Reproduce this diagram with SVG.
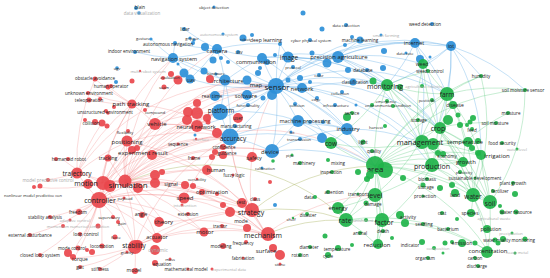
<svg xmlns="http://www.w3.org/2000/svg" width="550" height="278" viewBox="0 0 550 278">
<style>
#connectors path{fill:none;stroke-width:.7}
.er{stroke:#f07a7a;stroke-opacity:.4}
.eb{stroke:#5aaae6;stroke-opacity:.5}
.eg{stroke:#5fcc80;stroke-opacity:.5}
.ey{stroke:#a3ad55;stroke-opacity:.55}
.r circle{fill:#e9474c;fill-opacity:.92}
.b circle{fill:#2d8fd8;fill-opacity:.92}
.g circle{fill:#1fb34a;fill-opacity:.92}
text{font-family:"Open Sans","Liberation Sans",sans-serif;fill:#222;text-anchor:middle;dominant-baseline:central}
text.f{fill:#a8a8a8}
.s4{font-size:4px}.s45{font-size:4.5px}.s5{font-size:5px}.s55{font-size:5.5px}.s6{font-size:6px}.s65{font-size:6.5px}.s7{font-size:7px}.s75{font-size:7.5px}.s8{font-size:8px}
</style>
<rect width="550" height="278" fill="#fff"/>
<g id="connectors">
<path class="er" d="M125 183A200 200 0 0 1 230 137"/><path class="er" d="M125 183A200 200 0 0 1 220 112"/><path class="er" d="M125 183A200 200 0 0 1 252 211"/><path class="er" d="M125 183A200 200 0 0 1 266 234"/><path class="er" d="M125 183A200 200 0 0 1 276 86"/><path class="er" d="M125 183A200 200 0 0 1 272 151"/><path class="er" d="M125 183A200 200 0 0 1 196 127"/><path class="er" d="M125 183A200 200 0 0 1 184 198"/><path class="er" d="M125 183A200 200 0 0 1 164 222"/><path class="er" d="M125 183A200 200 0 0 1 132 104"/><path class="er" d="M125 183A200 200 0 0 1 127 142"/><path class="er" d="M125 183A200 200 0 0 1 155 124"/><path class="er" d="M125 183A200 200 0 0 1 135 246"/><path class="er" d="M125 183A200 200 0 0 1 157 238"/><path class="er" d="M125 183A200 200 0 0 1 204 232"/><path class="er" d="M125 183A200 200 0 0 1 207 170"/><path class="er" d="M125 183A200 200 0 0 1 252 157"/><path class="er" d="M125 183A200 200 0 0 1 375 166"/><path class="er" d="M125 183A200 200 0 0 1 108 158"/><path class="er" d="M125 183A200 200 0 0 1 77 173"/><path class="er" d="M125 183A200 200 0 0 1 145 153"/><path class="er" d="M125 183A200 200 0 0 1 217 49"/><path class="er" d="M125 183A200 200 0 0 1 173 58"/><path class="er" d="M125 183A200 200 0 0 1 225 81"/><path class="er" d="M125 183A200 200 0 0 1 155 183"/><path class="er" d="M125 183A200 200 0 0 1 212 192"/>
<path class="er" d="M99 200A200 200 0 0 1 230 137"/><path class="er" d="M99 200A200 200 0 0 1 220 112"/><path class="er" d="M99 200A200 200 0 0 1 252 211"/><path class="er" d="M99 200A200 200 0 0 1 266 234"/><path class="er" d="M99 200A200 200 0 0 1 135 246"/><path class="er" d="M99 200A200 200 0 0 1 132 104"/><path class="er" d="M99 200A200 200 0 0 1 155 124"/><path class="er" d="M99 200A200 200 0 0 1 127 142"/><path class="er" d="M99 200A200 200 0 0 1 77 173"/><path class="er" d="M99 200A200 200 0 0 1 184 198"/><path class="er" d="M99 200A200 200 0 0 1 204 232"/><path class="er" d="M99 200A200 200 0 0 1 157 238"/><path class="er" d="M99 200A200 200 0 0 1 164 222"/><path class="er" d="M99 200A200 200 0 0 1 276 86"/><path class="er" d="M99 200A200 200 0 0 1 79 212"/><path class="er" d="M99 200A200 200 0 0 1 74 258"/><path class="er" d="M99 200A200 200 0 0 1 85 234"/><path class="er" d="M99 200A200 200 0 0 1 75 248"/><path class="er" d="M99 200A200 200 0 0 1 40 255"/><path class="er" d="M99 200A200 200 0 0 1 30 235"/><path class="er" d="M99 200A200 200 0 0 1 50 217"/><path class="er" d="M99 200A200 200 0 0 1 102 246"/><path class="er" d="M99 200A200 200 0 0 1 272 151"/><path class="er" d="M99 200A200 200 0 0 1 207 170"/>
<path class="er" d="M102 183A200 200 0 0 1 132 104"/><path class="er" d="M102 183A200 200 0 0 1 230 137"/><path class="er" d="M102 183A200 200 0 0 1 252 211"/><path class="er" d="M102 183A200 200 0 0 1 266 234"/><path class="er" d="M102 183A200 200 0 0 1 135 246"/><path class="er" d="M102 183A200 200 0 0 1 155 124"/><path class="er" d="M102 183A200 200 0 0 1 62 159"/><path class="er" d="M102 183A200 200 0 0 1 108 158"/><path class="er" d="M102 183A200 200 0 0 1 220 112"/><path class="er" d="M102 183A200 200 0 0 1 34 187"/>
<path class="er" d="M77 173A200 200 0 0 1 132 104"/><path class="er" d="M77 173A200 200 0 0 1 95 79"/><path class="er" d="M77 173A200 200 0 0 1 102 123"/><path class="er" d="M77 173A200 200 0 0 1 127 142"/><path class="er" d="M77 173A200 200 0 0 1 276 86"/><path class="er" d="M77 173A200 200 0 0 1 48 180"/>
<path class="er" d="M132 104A200 200 0 0 1 95 79"/><path class="er" d="M132 104A200 200 0 0 1 109 87"/><path class="er" d="M132 104A200 200 0 0 1 88 93"/><path class="er" d="M132 104A200 200 0 0 1 89 100"/><path class="er" d="M132 104A200 200 0 0 1 155 124"/><path class="er" d="M132 104A200 200 0 0 1 173 58"/><path class="er" d="M132 104A200 200 0 0 1 230 137"/>
<path class="er" d="M155 124A200 200 0 0 1 230 137"/><path class="er" d="M155 124A200 200 0 0 1 220 112"/><path class="er" d="M155 124A200 200 0 0 1 276 86"/><path class="er" d="M155 124A200 200 0 0 1 196 127"/>
<path class="er" d="M127 142A200 200 0 0 1 230 137"/><path class="er" d="M127 142A200 200 0 0 1 276 86"/><path class="er" d="M127 142A200 200 0 0 1 266 234"/>
<path class="er" d="M252 211A200 200 0 0 1 230 137"/><path class="er" d="M252 211A200 200 0 0 1 276 86"/><path class="er" d="M252 211A200 200 0 0 1 266 234"/><path class="er" d="M266 234A200 200 0 0 1 375 195"/><path class="er" d="M266 234A200 200 0 0 1 230 137"/>
<path class="er" d="M135 246A200 200 0 0 1 266 234"/><path class="er" d="M135 246A200 200 0 0 1 252 211"/><path class="er" d="M135 246A200 200 0 0 1 157 238"/><path class="er" d="M135 246A200 200 0 0 1 74 258"/><path class="er" d="M135 246A200 200 0 0 1 80 267"/><path class="er" d="M135 246A200 200 0 0 1 100 269"/><path class="er" d="M135 246A200 200 0 0 1 135 271"/><path class="er" d="M135 246A200 200 0 0 1 230 137"/>
<path class="er" d="M145 153A200 200 0 0 1 230 137"/><path class="er" d="M145 153A200 200 0 0 1 220 112"/><path class="er" d="M145 153A200 200 0 0 1 252 211"/><path class="er" d="M196 127A200 200 0 0 1 230 137"/><path class="er" d="M196 127A200 200 0 0 1 220 112"/><path class="er" d="M196 127A200 200 0 0 1 276 86"/><path class="er" d="M207 170A200 200 0 0 1 230 137"/><path class="er" d="M184 198A200 200 0 0 1 252 211"/><path class="er" d="M164 222A200 200 0 0 1 266 234"/><path class="er" d="M204 232A200 200 0 0 1 266 234"/><path class="er" d="M157 238A200 200 0 0 1 204 232"/><path class="er" d="M184 198A200 200 0 0 1 230 137"/><path class="er" d="M157 238A200 200 0 0 1 252 211"/>
<path class="ey" d="M266 234A200 200 0 0 1 346 220"/><path class="ey" d="M252 211A200 200 0 0 1 346 220"/><path class="ey" d="M125 183A200 200 0 0 1 346 220"/><path class="ey" d="M252 211A200 200 0 0 1 375 166"/>
<path class="eb" d="M276 86A200 200 0 0 1 230 137"/><path class="eb" d="M276 86A200 200 0 0 1 220 112"/><path class="eb" d="M276 86A200 200 0 0 1 225 81"/><path class="eb" d="M276 86A200 200 0 0 1 217 49"/><path class="eb" d="M276 86A200 200 0 0 1 262 58"/><path class="eb" d="M276 86A200 200 0 0 1 289 57"/><path class="eb" d="M276 86A200 200 0 0 1 338 57"/><path class="eb" d="M276 86A200 200 0 0 1 302 89"/><path class="eb" d="M276 86A200 200 0 0 1 387 85"/><path class="eb" d="M276 86A200 200 0 0 1 375 166"/><path class="eb" d="M276 86A200 200 0 0 1 420 142"/><path class="eb" d="M276 86A200 200 0 0 1 438 128"/><path class="eb" d="M276 86A200 200 0 0 1 447 94"/><path class="eb" d="M276 86A200 200 0 0 1 451 46"/><path class="eb" d="M276 86A200 200 0 0 1 415 43"/><path class="eb" d="M276 86A200 200 0 0 1 272 151"/><path class="eb" d="M276 86A200 200 0 0 1 347 129"/><path class="eb" d="M276 86A200 200 0 0 1 298 121"/><path class="eb" d="M276 86A200 200 0 0 1 173 58"/><path class="eb" d="M276 86A200 200 0 0 1 190 79"/><path class="eb" d="M276 86A200 200 0 0 1 215 96"/><path class="eb" d="M276 86A200 200 0 0 1 247 95"/><path class="eb" d="M276 86A200 200 0 0 1 247 80"/><path class="eb" d="M276 86A200 200 0 0 1 330 143"/><path class="eb" d="M276 86A200 200 0 0 1 360 40"/><path class="eb" d="M276 86A200 200 0 0 1 280 44"/><path class="eb" d="M276 86A200 200 0 0 1 432 166"/><path class="eb" d="M276 86A200 200 0 0 1 196 127"/>
<path class="eb" d="M338 57A200 200 0 0 1 451 46"/><path class="eb" d="M338 57A200 200 0 0 1 415 43"/><path class="eb" d="M338 57A200 200 0 0 1 447 94"/><path class="eb" d="M338 57A200 200 0 0 1 387 85"/><path class="eb" d="M338 57A200 200 0 0 1 438 128"/><path class="eb" d="M338 57A200 200 0 0 1 423 64"/><path class="eb" d="M338 57A200 200 0 0 1 289 57"/><path class="eb" d="M338 57A200 200 0 0 1 360 40"/><path class="eb" d="M338 57A200 200 0 0 1 420 142"/>
<path class="eb" d="M289 57A200 200 0 0 1 217 49"/><path class="eb" d="M289 57A200 200 0 0 1 280 44"/><path class="eb" d="M289 57A200 200 0 0 1 438 128"/><path class="eb" d="M289 57A200 200 0 0 1 387 85"/><path class="eb" d="M289 57A200 200 0 0 1 353 82"/>
<path class="eb" d="M451 46A200 200 0 0 1 415 43"/><path class="eb" d="M451 46A200 200 0 0 1 447 94"/><path class="eb" d="M451 46A200 200 0 0 1 387 85"/><path class="eb" d="M451 46A200 200 0 0 1 481 76"/><path class="eb" d="M451 46A200 200 0 0 1 525 90"/><path class="eb" d="M451 46A200 200 0 0 1 423 64"/><path class="eb" d="M451 46A200 200 0 0 1 438 128"/><path class="eb" d="M451 46A200 200 0 0 1 481 155"/><path class="eb" d="M415 43A200 200 0 0 1 387 85"/><path class="eb" d="M415 43A200 200 0 0 1 447 94"/><path class="eb" d="M415 43A200 200 0 0 1 438 128"/><path class="eb" d="M415 43A200 200 0 0 1 420 142"/>
<path class="eb" d="M217 49A200 200 0 0 1 173 58"/><path class="eb" d="M217 49A200 200 0 0 1 225 81"/><path class="eb" d="M217 49A200 200 0 0 1 190 79"/><path class="eb" d="M217 49A200 200 0 0 1 184 29"/><path class="eb" d="M217 49A200 200 0 0 1 280 44"/><path class="eb" d="M217 49A200 200 0 0 1 175 43"/>
<path class="eb" d="M173 58A200 200 0 0 1 225 81"/><path class="eb" d="M173 58A200 200 0 0 1 190 79"/><path class="eb" d="M173 58A200 200 0 0 1 175 43"/><path class="eb" d="M173 58A200 200 0 0 1 135 52"/><path class="eb" d="M173 58A200 200 0 0 1 151 39"/>
<path class="eb" d="M225 81A200 200 0 0 1 230 137"/><path class="eb" d="M225 81A200 200 0 0 1 220 112"/><path class="eb" d="M225 81A200 200 0 0 1 262 58"/><path class="eb" d="M230 137A200 200 0 0 1 272 151"/><path class="eb" d="M230 137A200 200 0 0 1 220 112"/><path class="eb" d="M230 137A200 200 0 0 1 347 129"/><path class="eb" d="M230 137A200 200 0 0 1 375 166"/><path class="eb" d="M272 151A200 200 0 0 1 375 166"/><path class="eb" d="M272 151A200 200 0 0 1 298 121"/><path class="eb" d="M272 151A200 200 0 0 1 347 129"/><path class="eb" d="M262 58A200 200 0 0 1 302 89"/><path class="eb" d="M262 58A200 200 0 0 1 338 57"/><path class="eb" d="M302 89A200 200 0 0 1 387 85"/><path class="eb" d="M302 89A200 200 0 0 1 347 129"/><path class="eb" d="M298 121A200 200 0 0 1 347 129"/><path class="eb" d="M298 121A200 200 0 0 1 330 143"/><path class="eb" d="M347 129A200 200 0 0 1 375 166"/><path class="eb" d="M347 129A200 200 0 0 1 420 142"/><path class="eb" d="M220 112A200 200 0 0 1 375 166"/>
<path class="eg" d="M375 166A200 200 0 0 1 420 142"/><path class="eg" d="M375 166A200 200 0 0 1 438 128"/><path class="eg" d="M375 166A200 200 0 0 1 447 94"/><path class="eg" d="M375 166A200 200 0 0 1 387 85"/><path class="eg" d="M375 166A200 200 0 0 1 432 166"/><path class="eg" d="M375 166A200 200 0 0 1 473 196"/><path class="eg" d="M375 166A200 200 0 0 1 490 203"/><path class="eg" d="M375 166A200 200 0 0 1 375 195"/><path class="eg" d="M375 166A200 200 0 0 1 346 220"/><path class="eg" d="M375 166A200 200 0 0 1 384 222"/><path class="eg" d="M375 166A200 200 0 0 1 465 142"/><path class="eg" d="M375 166A200 200 0 0 1 463 162"/><path class="eg" d="M375 166A200 200 0 0 1 481 155"/><path class="eg" d="M375 166A200 200 0 0 1 488 251"/><path class="eg" d="M375 166A200 200 0 0 1 377 245"/><path class="eg" d="M375 166A200 200 0 0 1 330 143"/><path class="eg" d="M375 166A200 200 0 0 1 338 208"/><path class="eg" d="M375 166A200 200 0 0 1 481 76"/><path class="eg" d="M375 166A200 200 0 0 1 525 90"/><path class="eg" d="M375 166A200 200 0 0 1 347 129"/>
<path class="eg" d="M420 142A200 200 0 0 1 438 128"/><path class="eg" d="M420 142A200 200 0 0 1 447 94"/><path class="eg" d="M420 142A200 200 0 0 1 387 85"/><path class="eg" d="M420 142A200 200 0 0 1 432 166"/><path class="eg" d="M420 142A200 200 0 0 1 473 196"/><path class="eg" d="M420 142A200 200 0 0 1 490 203"/><path class="eg" d="M420 142A200 200 0 0 1 465 142"/><path class="eg" d="M420 142A200 200 0 0 1 481 155"/><path class="eg" d="M420 142A200 200 0 0 1 463 162"/><path class="eg" d="M420 142A200 200 0 0 1 423 64"/><path class="eg" d="M420 142A200 200 0 0 1 330 143"/><path class="eg" d="M420 142A200 200 0 0 1 375 195"/>
<path class="eg" d="M438 128A200 200 0 0 1 447 94"/><path class="eg" d="M438 128A200 200 0 0 1 387 85"/><path class="eg" d="M438 128A200 200 0 0 1 432 166"/><path class="eg" d="M438 128A200 200 0 0 1 473 196"/><path class="eg" d="M438 128A200 200 0 0 1 490 203"/><path class="eg" d="M438 128A200 200 0 0 1 465 142"/><path class="eg" d="M438 128A200 200 0 0 1 481 155"/><path class="eg" d="M438 128A200 200 0 0 1 463 162"/><path class="eg" d="M438 128A200 200 0 0 1 453 105"/><path class="eg" d="M438 128A200 200 0 0 1 423 64"/><path class="eg" d="M438 128A200 200 0 0 1 496 123"/>
<path class="eg" d="M447 94A200 200 0 0 1 387 85"/><path class="eg" d="M447 94A200 200 0 0 1 423 64"/><path class="eg" d="M447 94A200 200 0 0 1 481 76"/><path class="eg" d="M447 94A200 200 0 0 1 432 166"/><path class="eg" d="M447 94A200 200 0 0 1 465 142"/><path class="eg" d="M447 94A200 200 0 0 1 525 90"/><path class="eg" d="M447 94A200 200 0 0 1 490 203"/><path class="eg" d="M447 94A200 200 0 0 1 473 196"/>
<path class="eg" d="M387 85A200 200 0 0 1 330 143"/><path class="eg" d="M387 85A200 200 0 0 1 432 166"/><path class="eg" d="M387 85A200 200 0 0 1 473 196"/><path class="eg" d="M387 85A200 200 0 0 1 428 71"/>
<path class="eg" d="M432 166A200 200 0 0 1 473 196"/><path class="eg" d="M432 166A200 200 0 0 1 490 203"/><path class="eg" d="M432 166A200 200 0 0 1 463 162"/><path class="eg" d="M432 166A200 200 0 0 1 375 195"/><path class="eg" d="M432 166A200 200 0 0 1 384 222"/>
<path class="eg" d="M473 196A200 200 0 0 1 490 203"/><path class="eg" d="M473 196A200 200 0 0 1 488 251"/><path class="eg" d="M473 196A200 200 0 0 1 481 155"/><path class="eg" d="M473 196A200 200 0 0 1 487 229"/><path class="eg" d="M473 196A200 200 0 0 1 471 213"/><path class="eg" d="M490 203A200 200 0 0 1 488 251"/><path class="eg" d="M490 203A200 200 0 0 1 481 155"/><path class="eg" d="M490 203A200 200 0 0 1 463 162"/>
<path class="eg" d="M375 195A200 200 0 0 1 346 220"/><path class="eg" d="M375 195A200 200 0 0 1 384 222"/><path class="eg" d="M375 195A200 200 0 0 1 338 208"/><path class="eg" d="M375 195A200 200 0 0 1 377 245"/><path class="eg" d="M346 220A200 200 0 0 1 384 222"/><path class="eg" d="M346 220A200 200 0 0 1 338 208"/><path class="eg" d="M346 220A200 200 0 0 1 377 245"/><path class="eg" d="M346 220A200 200 0 0 1 488 251"/><path class="eg" d="M384 222A200 200 0 0 1 488 251"/><path class="eg" d="M384 222A200 200 0 0 1 377 245"/>
<path class="eg" d="M465 142A200 200 0 0 1 481 155"/><path class="eg" d="M465 142A200 200 0 0 1 463 162"/><path class="eg" d="M465 142A200 200 0 0 1 508 113"/><path class="eg" d="M525 90A200 200 0 0 1 490 203"/><path class="eg" d="M481 76A200 200 0 0 1 473 196"/>
</g>
<!-- blue cluster -->
<g id="n-blain" class="b"><circle cx="136" cy="8" r="2"/><text x="140" y="7" class="s45">blain</text></g>
<g id="n-data-visualization" class="b"><circle cx="139" cy="13" r="1.8"/><text x="142" y="13" class="s45 f">data visualization</text></g>
<g id="n-object-detection" class="b"><circle cx="214" cy="7" r="1.6"/><text x="214" y="7" class="s4">object detection</text></g>
<g id="n-lidar" class="b"><circle cx="184" cy="29" r="2"/><text x="185" y="29" class="s45">lidar</text></g>
<g id="n-gesture" class="b"><circle cx="151" cy="39" r="1.6"/><text x="143" y="38" class="s4">gesture</text></g>
<g id="n-gripper" class="b"><circle cx="190" cy="38" r="1.6"/><circle cx="194" cy="40" r="1.6"/><text x="192" y="38" class="s4">gripper</text></g>
<g id="n-autonomous-navigation" class="b"><circle cx="175" cy="43" r="2"/><circle cx="193" cy="43" r="2"/><text x="168" y="44" class="s45">autonomous navigation</text></g>
<g id="n-autonomous-system" class="b"><circle cx="223" cy="34" r="1.6"/><text x="219" y="34" class="s4 f">autonomous system</text></g>
<g id="n-robot" class="b"><circle cx="243" cy="38" r="3.5"/><circle cx="252" cy="35" r="2"/><text x="245" y="39" class="s4">robot</text></g>
<g id="n-deep-learning" class="b"><circle cx="280" cy="44" r="2"/><text x="266" y="40" class="s5">deep learning</text></g>
<g id="n-camera" class="b"><circle cx="205" cy="47" r="4"/><circle cx="217" cy="49" r="5"/><text x="217" y="51" class="s6">camera</text></g>
<g id="n-usv" class="b"><circle cx="238" cy="52" r="2"/><text x="239" y="52" class="s45">usv</text></g>
<g id="n-navigation-system" class="b"><circle cx="173" cy="58" r="5"/><circle cx="178" cy="64" r="1.5"/><text x="174" y="59" class="s55">navigation system</text></g>
<g id="n-communication" class="b"><circle cx="262" cy="58" r="5"/><circle cx="267" cy="62" r="3"/><text x="256" y="62" class="s55">communication</text></g>
<g id="n-b1" class="b"><circle cx="213" cy="60" r="3.5"/><circle cx="221" cy="58" r="2"/><circle cx="228" cy="62" r="2"/></g>
<g id="n-b2" class="b"><circle cx="184" cy="73" r="4.5"/><circle cx="204" cy="71" r="3.5"/></g>
<g id="n-uav" class="b"><circle cx="190" cy="79" r="4.5"/><text x="191" y="80" class="s5">uav</text></g>
<g id="n-hardware" class="b"><circle cx="216" cy="74" r="1.5"/><text x="216" y="73" class="s4">hardware</text></g>
<g id="n-architecture" class="b"><circle cx="225" cy="80" r="5.5"/><text x="227" y="81" class="s6">architecture</text></g>
<g id="n-map" class="b"><circle cx="247" cy="80" r="4.5"/><circle cx="258" cy="73" r="3"/><circle cx="260" cy="68" r="2"/><text x="256" y="85" class="s6">map</text></g>
<g id="n-sensor" class="b"><circle cx="276" cy="86" r="8"/><text x="277" y="86" class="s8">sensor</text></g>
<g id="n-indoor-environment" class="b"><circle cx="135" cy="52" r="2"/><text x="129" y="51" class="s45">indoor environment</text></g>
<g id="n-ugv" class="b"><circle cx="117" cy="68" r="1.8"/><text x="117" y="68" class="s4">ugv</text></g>
<g id="n-b3" class="b"><circle cx="116" cy="82" r="2"/></g>
<g id="n-image" class="b"><circle cx="288" cy="57" r="5.5"/><circle cx="275" cy="55" r="2"/><text x="289" y="57" class="s65">image</text></g>
<g id="n-precision-agriculture" class="b"><circle cx="338" cy="57" r="6"/><circle cx="327" cy="63" r="4.5"/><circle cx="312" cy="53" r="2.5"/><text x="339" y="57" class="s6">precision agriculture</text></g>
<g id="n-cyber-physical-system" class="b"><circle cx="310" cy="40" r="2"/><text x="311" y="40" class="s4">cyber physical system</text></g>
<g id="n-machine-learning" class="b"><circle cx="360" cy="40" r="3.5"/><circle cx="352" cy="37" r="2"/><text x="360" y="40" class="s45">machine learning</text></g>
<g id="n-data-collection" class="b"><circle cx="346" cy="25" r="2"/><text x="346" y="25" class="s4">data collection</text></g>
<g id="n-b4" class="b"><circle cx="303" cy="13" r="2.5"/><circle cx="322" cy="29" r="2.5"/><circle cx="345" cy="45" r="2"/><circle cx="384" cy="51" r="3"/></g>
<g id="n-smart-farming" class="b"><circle cx="381" cy="35" r="1.5"/><text x="386" y="35" class="s4 f">smart farming</text></g>
<g id="n-protocol" class="b"><circle cx="293" cy="67" r="2"/><text x="293" y="67" class="s4">protocol</text></g>
<g id="n-color" class="b"><circle cx="319" cy="75" r="2"/><text x="319" y="75" class="s4">color</text></g>
<g id="n-database" class="b"><circle cx="348" cy="70" r="3"/><circle cx="367" cy="70" r="2"/><circle cx="383" cy="68" r="3"/><text x="363" y="70" class="s45">database</text></g>
<g id="n-classification" class="b"><circle cx="353" cy="82" r="3.5"/><text x="355" y="82" class="s45">classification</text></g>
<g id="n-b5" class="b"><circle cx="300" cy="78" r="3"/><circle cx="288" cy="80" r="2.5"/><circle cx="310" cy="82" r="2"/></g>
<g id="n-network" class="b"><circle cx="302" cy="88" r="5"/><text x="302" y="89" class="s6">network</text></g>
<g id="n-collection" class="b"><circle cx="342" cy="92" r="2"/><text x="340" y="93" class="s4">collection</text></g>
<g id="n-edge" class="b"><circle cx="317" cy="98" r="2"/><text x="316" y="99" class="s4">edge</text></g>
<g id="n-collision-b" class="b"><circle cx="295" cy="104" r="2"/><text x="297" y="105" class="s4">collision</text></g>
<g id="n-infrastructure" class="b"><circle cx="335" cy="105" r="2"/><circle cx="356" cy="105" r="1.5"/><text x="336" y="105" class="s4">infrastructure</text></g>
<g id="n-machine-processing" class="b"><circle cx="298" cy="121" r="6"/><circle cx="310" cy="122" r="2"/><circle cx="323" cy="122" r="2"/><text x="305" y="121" class="s55">machine processing</text></g>
<g id="n-industry" class="b"><circle cx="347" cy="129" r="6"/><text x="348" y="129" class="s6">industry</text></g>
<g id="n-transmission" class="b"><circle cx="300" cy="139" r="2"/><text x="299" y="139" class="s4">transmission</text></g>
<g id="n-b6" class="b"><circle cx="322" cy="138" r="5"/></g>
<g id="n-lot" class="b"><circle cx="291" cy="132" r="1.5"/><text x="292" y="132" class="s4">lot</text></g>
<g id="n-real-time" class="b"><circle cx="215" cy="96" r="5"/><text x="212" y="96" class="s5">real time</text></g>
<g id="n-software" class="b"><circle cx="247" cy="95" r="5"/><circle cx="263" cy="98" r="2.5"/><circle cx="272" cy="95" r="5"/><text x="246" y="96" class="s55">software</text></g>
<g id="n-functionality" class="b"><circle cx="248" cy="105" r="2"/><text x="248" y="105" class="s4">functionality</text></g>
<g id="n-platform" class="b"><circle cx="220" cy="112" r="8"/><text x="221" y="110" class="s65">platform</text></g>
<g id="n-manufacturing" class="b"><circle cx="235" cy="126" r="2"/><text x="236" y="126" class="s45">manufacturing</text></g>
<g id="n-accuracy" class="b"><circle cx="230" cy="137" r="8.5"/><circle cx="195" cy="135" r="1.5"/><text x="233" y="138" class="s65">accuracy</text></g>
<g id="n-device" class="b"><circle cx="272" cy="151" r="7"/><text x="270" y="152" class="s6">device</text></g>
<g id="n-calibration" class="b"><circle cx="262" cy="168" r="1.5"/><text x="265" y="168" class="s4">calibration</text></g>
<g id="n-internet" class="b"><circle cx="415" cy="43" r="5"/><text x="414" y="43" class="s55">internet</text></g>
<g id="n-iot" class="b"><circle cx="451" cy="46" r="5"/><text x="451" y="46" class="s55">iot</text></g>
<g id="n-data-rate" class="b"><circle cx="406" cy="53" r="1.5"/><text x="405" y="53" class="s4">data rate</text></g>
<g id="n-weed-detection" class="b"><circle cx="432" cy="24" r="2"/><text x="425" y="24" class="s45">weed detection</text></g>
<g id="n-b7" class="b"><circle cx="420" cy="59" r="4"/><circle cx="430" cy="57" r="1.5"/><circle cx="275" cy="205" r="2"/></g>
<!-- red cluster -->
<g id="n-obstacle-avoidance" class="r"><circle cx="95" cy="79" r="2.5"/><text x="95" y="78" class="s45">obstacle avoidance</text></g>
<g id="n-r1" class="r"><circle cx="132" cy="81" r="2.5"/><circle cx="114" cy="107" r="2"/></g>
<g id="n-human-operator" class="r"><circle cx="108" cy="87" r="2.5"/><circle cx="111" cy="86" r="2"/><text x="111" y="86" class="s45">human operator</text></g>
<g id="n-unknown-environment" class="r"><circle cx="88" cy="93" r="2"/><text x="89" y="93" class="s45">unknown environment</text></g>
<g id="n-teleoperation" class="r"><circle cx="89" cy="100" r="2.5"/><circle cx="100" cy="99" r="2"/><text x="89" y="100" class="s45">teleoperation</text></g>
<g id="n-unstructured-environment" class="r"><circle cx="106" cy="111" r="2"/><circle cx="108" cy="113" r="1.8"/><text x="105" y="112" class="s45">unstructured environment</text></g>
<g id="n-collision" class="r"><circle cx="85" cy="120" r="2"/><circle cx="95" cy="122" r="3"/><circle cx="102" cy="123" r="3.5"/><circle cx="107" cy="126" r="2.5"/><text x="91" y="123" class="s45">collision</text></g>
<g id="n-path-tracking" class="r"><circle cx="132" cy="104" r="4.5"/><text x="131" y="104" class="s6">path tracking</text></g>
<g id="n-flexibility" class="r"><circle cx="128" cy="131" r="2"/><text x="125" y="132" class="s4">flexibility</text></g>
<g id="n-positioning" class="r"><circle cx="127" cy="141" r="5.5"/><text x="127" y="142" class="s6">positioning</text></g>
<g id="n-experiment-result" class="r"><circle cx="132" cy="150" r="4"/><circle cx="137" cy="148" r="3"/><circle cx="152" cy="155" r="5"/><text x="143" y="153" class="s6">experiment result</text></g>
<g id="n-tracking" class="r"><circle cx="108" cy="158" r="3.5"/><text x="108" y="158" class="s5">tracking</text></g>
<g id="n-humanoid-robot" class="r"><circle cx="56" cy="159" r="2"/><circle cx="68" cy="159" r="2"/><text x="69" y="159" class="s45">humanoid robot</text></g>
<g id="n-trajectory" class="r"><circle cx="77" cy="173" r="5.5"/><text x="77" y="173" class="s65">trajectory</text></g>
<g id="n-model-predictive-control" class="r"><circle cx="48" cy="180" r="2"/><text x="48" y="180" class="s45 f">model predictive control</text></g>
<g id="n-nonlinear-model-predictive-control" class="r"><circle cx="34" cy="187" r="2"/><circle cx="40" cy="186" r="2.5"/><text x="33" y="195" class="s4">nonlinear model predictive con</text></g>
<g id="n-motion" class="r"><circle cx="88" cy="184" r="5"/><circle cx="103" cy="183" r="7"/><text x="86" y="183" class="s7">motion</text></g>
<g id="n-simulation" class="r"><circle cx="110" cy="186" r="6"/><circle cx="125" cy="181" r="6.5"/><circle cx="138" cy="188" r="5"/><text x="128" y="184" class="s8">simulation</text></g>
<g id="n-controller" class="r"><circle cx="99" cy="200" r="8"/><text x="100" y="200" class="s7">controller</text></g>
<g id="n-payload" class="r"><circle cx="124" cy="198" r="1.5"/><text x="125" y="198" class="s4">payload</text></g>
<g id="n-freedom" class="r"><circle cx="79" cy="212" r="3"/><text x="78" y="212" class="s45">freedom</text></g>
<g id="n-stability-analysis" class="r"><circle cx="50" cy="217" r="2"/><text x="45" y="217" class="s45">stability analysis</text></g>
<g id="n-adaptive-control" class="r"><circle cx="70" cy="220" r="1.5"/><text x="75" y="220" class="s4 f">adaptive control</text></g>
<g id="n-numerical-simulation" class="r"><circle cx="63" cy="226" r="2"/><circle cx="98" cy="226" r="2.5"/><text x="78" y="226" class="s4 f">momentum numerical simulation</text></g>
<g id="n-external-disturbance" class="r"><circle cx="30" cy="235" r="2"/><text x="30" y="235" class="s45">external disturbance</text></g>
<g id="n-loop-control" class="r"><circle cx="80" cy="234" r="2"/><text x="86" y="234" class="s45">loop control</text></g>
<g id="n-mode-control" class="r"><circle cx="78" cy="248" r="2.5"/><text x="72" y="248" class="s45">mode control</text></g>
<g id="n-locomotion" class="r"><circle cx="102" cy="246" r="2.5"/><text x="102" y="246" class="s45">locomotion</text></g>
<g id="n-closed-loop-system" class="r"><circle cx="40" cy="255" r="2"/><text x="40" y="255" class="s45">closed loop system</text></g>
<g id="n-torque" class="r"><circle cx="73" cy="257" r="3"/><text x="80" y="259" class="s5">torque</text></g>
<g id="n-gait" class="r"><circle cx="80" cy="267" r="2"/><text x="80" y="267" class="s45">gait</text></g>
<g id="n-stiffness" class="r"><circle cx="100" cy="269" r="2"/><text x="100" y="269" class="s45">stiffness</text></g>
<g id="n-supervisory" class="r"><circle cx="113" cy="217" r="2"/><text x="109" y="217" class="s4">supervisory</text></g>
<g id="n-gain" class="r"><circle cx="118" cy="222" r="2"/><text x="122" y="223" class="s4">gain</text></g>
<g id="n-force" class="r"><circle cx="115" cy="237" r="2.5"/><text x="116" y="237" class="s4">force</text></g>
<g id="n-stability" class="r"><circle cx="135" cy="247" r="7"/><circle cx="138" cy="245" r="5"/><text x="134" y="245" class="s65">stability</text></g>
<g id="n-gravity" class="r"><circle cx="127" cy="252" r="1.5"/><text x="127" y="252" class="s4">gravity</text></g>
<g id="n-r2" class="r"><circle cx="92" cy="252" r="3"/><circle cx="87" cy="250" r="2"/><circle cx="68" cy="253" r="4"/><circle cx="280" cy="255" r="5"/><circle cx="270" cy="182" r="2"/></g>
<g id="n-model" class="r"><circle cx="135" cy="271" r="3"/><text x="134" y="270" class="s5">model</text></g>
<g id="n-signal" class="r"><circle cx="155" cy="183" r="5"/><circle cx="185" cy="185" r="4"/><circle cx="193" cy="186" r="3"/><text x="171" y="184" class="s5">signal</text></g>
<g id="n-optimization" class="r"><circle cx="202" cy="192" r="3"/><circle cx="217" cy="194" r="2"/><text x="212" y="192" class="s55">optimization</text></g>
<g id="n-speed" class="r"><circle cx="184" cy="198" r="5.5"/><text x="185" y="198" class="s6">speed</text></g>
<g id="n-intervention" class="r"><circle cx="182" cy="205" r="1.5"/><text x="185" y="205" class="s4 f">intervention</text></g>
<g id="n-extension" class="r"><circle cx="188" cy="214" r="2"/><text x="188" y="214" class="s45">extension</text></g>
<g id="n-test" class="r"><circle cx="242" cy="203" r="5"/><circle cx="223" cy="205" r="3"/><circle cx="230" cy="212" r="5"/><text x="241" y="202" class="s5">test</text></g>
<g id="n-class" class="r"><circle cx="255" cy="199" r="2"/><text x="255" y="199" class="s45">class</text></g>
<g id="n-strategy" class="r"><circle cx="252" cy="210" r="7"/><text x="251" y="212" class="s7">strategy</text></g>
<g id="n-theory" class="r"><circle cx="159" cy="222" r="5"/><text x="164" y="222" class="s6">theory</text></g>
<g id="n-angle" class="r"><circle cx="142" cy="215" r="3"/><text x="141" y="214" class="s5">angle</text></g>
<g id="n-mode" class="r"><circle cx="247" cy="228" r="4"/><text x="241" y="221" class="s5">mode</text></g>
<g id="n-tractor" class="r"><circle cx="222" cy="226" r="2"/><text x="220" y="226" class="s45">tractor</text></g>
<g id="n-motor" class="r"><circle cx="204" cy="232" r="4.5"/><text x="205" y="232" class="s6">motor</text></g>
<g id="n-mechanism" class="r"><circle cx="268" cy="234" r="7"/><text x="263" y="235" class="s7">mechanism</text></g>
<g id="n-actuator" class="r"><circle cx="157" cy="238" r="5"/><text x="157" y="237" class="s55">actuator</text></g>
<g id="n-dynamic" class="r"><circle cx="155" cy="250" r="5"/><text x="158" y="250" class="s5 f">dynamic</text></g>
<g id="n-modelling" class="r"><circle cx="223" cy="246" r="3"/><text x="221" y="246" class="s45">modelling</text></g>
<g id="n-frequency" class="r"><circle cx="246" cy="242" r="2"/><text x="243" y="243" class="s45">frequency</text></g>
<g id="n-surface" class="r"><circle cx="273" cy="248" r="4"/><text x="266" y="251" class="s6">surface</text></g>
<g id="n-fabrication" class="r"><circle cx="243" cy="258" r="1.5"/><text x="243" y="258" class="s45">fabrication</text></g>
<g id="n-equation" class="r"><circle cx="155" cy="263" r="3"/><text x="162" y="264" class="s45">equation</text></g>
<g id="n-mass" class="r"><circle cx="170" cy="259" r="1.5"/><text x="170" y="259" class="s4">mass</text></g>
<g id="n-mathematical-model" class="r"><circle cx="188" cy="269" r="1.5"/><text x="186" y="269" class="s45">mathematical model</text></g>
<g id="n-experimental-data" class="r"><circle cx="212" cy="269" r="1.5"/><text x="229" y="269" class="s4 f">experimental data</text></g>
<g id="n-stone" class="r"><circle cx="280" cy="264" r="1.5"/><text x="280" y="264" class="s4">stone</text></g>
<g id="n-vehicle" class="r"><circle cx="155" cy="124" r="6"/><text x="157" y="124" class="s6">vehicle</text></g>
<g id="n-compound" class="r"><circle cx="145" cy="110" r="2"/><text x="155" y="112" class="s4">compound</text></g>
<g id="n-r3" class="r"><circle cx="197" cy="103" r="4"/><circle cx="188" cy="112" r="5"/><circle cx="197" cy="113" r="6"/><circle cx="187" cy="120" r="5"/><circle cx="207" cy="118" r="4"/><circle cx="208" cy="122" r="2.5"/><circle cx="217" cy="133" r="5"/><circle cx="212" cy="157" r="3"/><circle cx="155" cy="175" r="5"/><circle cx="162" cy="172" r="3"/></g>
<g id="n-neural-network" class="r"><circle cx="197" cy="126" r="6"/><text x="196" y="127" class="s55">neural network</text></g>
<g id="n-user" class="r"><circle cx="238" cy="118" r="5"/><text x="238" y="118" class="s45">user</text></g>
<g id="n-sequence" class="r"><circle cx="178" cy="144" r="1.5"/><text x="178" y="144" class="s45">sequence</text></g>
<g id="n-interface" class="r"><circle cx="196" cy="139" r="1.2"/><text x="201" y="139" class="s4 f">interface</text></g>
<g id="n-confidence" class="r"><circle cx="223" cy="147" r="3"/><text x="224" y="147" class="s45">confidence</text></g>
<g id="n-guidance" class="r"><circle cx="215" cy="152" r="3"/><circle cx="223" cy="155" r="4"/><text x="227" y="153" class="s45">guidance</text></g>
<g id="n-safety" class="r"><circle cx="252" cy="157" r="5"/><text x="254" y="158" class="s55">safety</text></g>
<g id="n-frame" class="r"><circle cx="193" cy="158" r="2"/><text x="194" y="158" class="s45">frame</text></g>
<g id="n-human" class="r"><circle cx="207" cy="170" r="5"/><text x="216" y="170" class="s55">human</text></g>
<g id="n-fuzzy-logic" class="r"><circle cx="233" cy="175" r="1.5"/><text x="234" y="175" class="s45">fuzzy logic</text></g>
<g id="n-versatility" class="r"><circle cx="197" cy="179" r="1.2"/><text x="197" y="179" class="s4">versatility</text></g>
<g id="n-evaluation" class="r"><circle cx="171" cy="74" r="3"/><circle cx="178" cy="80" r="4.5"/><circle cx="163" cy="78" r="2"/><text x="170" y="77" class="s4">evaluation</text></g>
<g id="n-r4" class="r"><circle cx="210" cy="79" r="4"/></g>
<g id="n-seam" class="r"><circle cx="164" cy="87" r="2.5"/><text x="164" y="87" class="s4">seam</text></g>
<g id="n-multi-robot-system" class="r"><circle cx="140" cy="71" r="1.2"/><text x="148" y="71" class="s4 f">multi robot system</text></g>
<!-- green cluster -->
<g id="n-monitoring" class="g"><circle cx="387" cy="85" r="6"/><circle cx="373" cy="81" r="3.5"/><circle cx="400" cy="87" r="3"/><text x="385" y="86" class="s7">monitoring</text></g>
<g id="n-emergence" class="g"><circle cx="387" cy="101" r="2"/><text x="386" y="101" class="s4">emergence</text></g>
<g id="n-environmental-condition" class="g"><circle cx="372" cy="105" r="2"/><circle cx="393" cy="106" r="2"/><text x="388" y="105" class="s4">environmental condition</text></g>
<g id="n-service" class="g"><circle cx="352" cy="113" r="2"/><circle cx="347" cy="117" r="4"/><text x="352" y="113" class="s45">service</text></g>
<g id="n-harvest" class="g"><circle cx="385" cy="126" r="2"/><text x="376" y="127" class="s4">harvest</text></g>
<g id="n-cow" class="g"><circle cx="331" cy="143" r="6"/><text x="331" y="143" class="s65">cow</text></g>
<g id="n-light" class="g"><circle cx="363" cy="142" r="2.5"/><text x="363" y="142" class="s45">light</text></g>
<g id="n-quality" class="g"><circle cx="372" cy="151" r="2"/><text x="374" y="151" class="s45">quality</text></g>
<g id="n-pipe" class="g"><circle cx="292" cy="155" r="1.5"/><text x="290" y="155" class="s4">pipe</text></g>
<g id="n-machinery" class="g"><circle cx="300" cy="163" r="2"/><text x="304" y="163" class="s45">machinery</text></g>
<g id="n-mixing" class="g"><circle cx="328" cy="160" r="2"/><text x="338" y="163" class="s45">mixing</text></g>
<g id="n-inspection" class="g"><circle cx="332" cy="172" r="2"/><text x="331" y="172" class="s45">inspection</text></g>
<g id="n-area" class="g"><circle cx="375" cy="165" r="9"/><circle cx="385" cy="170" r="8"/><text x="375" y="168" class="s8">area</text></g>
<g id="n-g1" class="g"><circle cx="358" cy="172" r="3"/><circle cx="370" cy="175" r="4"/><circle cx="367" cy="179" r="3"/><circle cx="403" cy="178" r="3"/><circle cx="273" cy="161" r="1.8"/></g>
<g id="n-farm" class="g"><circle cx="447" cy="94" r="7"/><text x="447" y="94" class="s65">farm</text></g>
<g id="n-weed" class="g"><circle cx="423" cy="64" r="5"/><text x="422" y="64" class="s5">weed</text></g>
<g id="n-weed-control" class="g"><circle cx="428" cy="71" r="2"/><text x="430" y="71" class="s45">weed control</text></g>
<g id="n-humidity" class="g"><circle cx="481" cy="76" r="2"/><text x="481" y="76" class="s45">humidity</text></g>
<g id="n-agricultural-robotics" class="g"><circle cx="422" cy="86" r="2"/><text x="424" y="86" class="s4 f">agricultural robotics</text></g>
<g id="n-soil-moisture-sensor" class="g"><circle cx="525" cy="90" r="2"/><text x="523" y="90" class="s45">soil moisture sensor</text></g>
<g id="n-pesticide" class="g"><circle cx="432" cy="100" r="2"/><text x="427" y="100" class="s4">pesticide</text></g>
<g id="n-disease" class="g"><circle cx="453" cy="105" r="4"/><text x="455" y="105" class="s5">disease</text></g>
<g id="n-moisture" class="g"><circle cx="508" cy="113" r="2"/><text x="511" y="113" class="s45">moisture</text></g>
<g id="n-g2" class="g"><circle cx="458" cy="115" r="2.5"/><circle cx="473" cy="118" r="3"/><circle cx="448" cy="120" r="5"/><circle cx="470" cy="122" r="2.5"/><circle cx="460" cy="125" r="3"/><circle cx="467" cy="125" r="2"/><circle cx="472" cy="148" r="3"/><circle cx="478" cy="153" r="3"/></g>
<g id="n-soil-moisture" class="g"><circle cx="496" cy="123" r="2"/><text x="495" y="123" class="s45">soil moisture</text></g>
<g id="n-storage" class="g"><circle cx="418" cy="120" r="2"/><text x="419" y="120" class="s45">storage</text></g>
<g id="n-crop" class="g"><circle cx="440" cy="128" r="6"/><text x="438" y="128" class="s7">crop</text></g>
<g id="n-feed" class="g"><circle cx="472" cy="129" r="2"/><text x="472" y="130" class="s45">feed</text></g>
<g id="n-management" class="g"><circle cx="422" cy="142" r="7"/><circle cx="433" cy="144" r="6"/><text x="420" y="142" class="s75">management</text></g>
<g id="n-temperature" class="g"><circle cx="468" cy="142" r="5"/><circle cx="478" cy="141" r="3"/><text x="465" y="142" class="s6">temperature</text></g>
<g id="n-food-security" class="g"><circle cx="502" cy="143" r="2"/><text x="502" y="143" class="s45">food security</text></g>
<g id="n-water-level" class="g"><circle cx="517" cy="149" r="1.5"/><text x="517" y="149" class="s4 f">water level</text></g>
<g id="n-irrigation" class="g"><circle cx="481" cy="155" r="5"/><text x="497" y="156" class="s6">irrigation</text></g>
<g id="n-economy" class="g"><circle cx="438" cy="153" r="3"/><circle cx="443" cy="154" r="3"/><text x="447" y="156" class="s45">economy</text></g>
<g id="n-growth" class="g"><circle cx="463" cy="162" r="5"/><text x="466" y="162" class="s6">growth</text></g>
<g id="n-production" class="g"><circle cx="432" cy="165" r="7"/><text x="432" y="166" class="s7">production</text></g>
<g id="n-plasticity" class="g"><circle cx="460" cy="172" r="2"/><text x="464" y="172" class="s4">plasticity</text></g>
<g id="n-sustainable-development" class="g"><circle cx="475" cy="178" r="1.5"/><text x="475" y="178" class="s45">sustainable development</text></g>
<g id="n-biomass" class="g"><circle cx="427" cy="179" r="2"/><text x="427" y="179" class="s45">biomass</text></g>
<g id="n-plant-growth" class="g"><circle cx="513" cy="183" r="2"/><text x="513" y="183" class="s45">plant growth</text></g>
<g id="n-storage-2" class="g"><circle cx="423" cy="185" r="2.5"/><circle cx="440" cy="188" r="3"/><circle cx="452" cy="185" r="3"/><text x="426" y="187" class="s45">storage</text></g>
<g id="n-fertilizer" class="g"><circle cx="493" cy="191" r="2"/><circle cx="515" cy="194" r="3"/><text x="500" y="191" class="s45">fertilizer</text></g>
<g id="n-protection" class="g"><circle cx="423" cy="196" r="1.5"/><text x="425" y="196" class="s45">protection</text></g>
<g id="n-land" class="g"><circle cx="455" cy="193" r="4"/><text x="455" y="195" class="s5">land</text></g>
<g id="n-water" class="g"><circle cx="473" cy="195" r="7"/><text x="473" y="196" class="s65">water</text></g>
<g id="n-soil" class="g"><circle cx="490" cy="202" r="7"/><circle cx="500" cy="206" r="2"/><text x="490" y="203" class="s65">soil</text></g>
<g id="n-water-resource" class="g"><circle cx="502" cy="212" r="2.5"/><circle cx="516" cy="212" r="2.5"/><text x="516" y="212" class="s45">water resource</text></g>
<g id="n-species" class="g"><circle cx="471" cy="213" r="4"/><text x="470" y="213" class="s5">species</text></g>
<g id="n-cost" class="g"><circle cx="442" cy="213" r="2"/><text x="442" y="213" class="s45">cost</text></g>
<g id="n-agricultural-waste" class="g"><circle cx="457" cy="219" r="2"/><text x="494" y="218" class="s4 f">agricultural waste</text></g>
<g id="n-activity" class="g"><circle cx="400" cy="215" r="4"/><circle cx="405" cy="223" r="4"/><text x="408" y="217" class="s5">activity</text></g>
<g id="n-seedling" class="g"><circle cx="423" cy="224" r="2"/><text x="424" y="224" class="s45">seedling</text></g>
<g id="n-bacterium" class="g"><circle cx="448" cy="229" r="2"/><text x="448" y="229" class="s45">bacterium</text></g>
<g id="n-pollution" class="g"><circle cx="487" cy="229" r="4"/><text x="491" y="229" class="s5">pollution</text></g>
<g id="n-precipitation" class="g"><circle cx="512" cy="233" r="1.5"/><text x="511" y="233" class="s4 f">precipitation</text></g>
<g id="n-water-quality-monitoring" class="g"><circle cx="495" cy="240" r="2.5"/><circle cx="503" cy="239" r="3"/><circle cx="525" cy="239" r="2.5"/><text x="509" y="240" class="s45">water quality monitoring</text></g>
<g id="n-emission" class="g"><circle cx="462" cy="243" r="4"/><circle cx="445" cy="243" r="2.5"/><circle cx="452" cy="242" r="2"/><circle cx="475" cy="243" r="2.5"/><circle cx="498" cy="243" r="2.5"/><text x="462" y="243" class="s5">emission</text></g>
<g id="n-indicator" class="g"><circle cx="422" cy="242" r="3"/><text x="410" y="245" class="s45">indicator</text></g>
<g id="n-composition" class="g"><circle cx="434" cy="248" r="2"/><circle cx="443" cy="253" r="1.5"/><text x="438" y="248" class="s4 f">composition</text></g>
<g id="n-concentration" class="g"><circle cx="487" cy="252" r="6"/><text x="488" y="251" class="s6">concentration</text></g>
<g id="n-heavy-metal" class="g"><circle cx="515" cy="253" r="1.5"/><text x="517" y="252" class="s4 f">heavy metal</text></g>
<g id="n-organism" class="g"><circle cx="428" cy="258" r="2"/><text x="425" y="258" class="s45">organism</text></g>
<g id="n-carbon" class="g"><circle cx="475" cy="258" r="2"/><text x="475" y="258" class="s45">carbon</text></g>
<g id="n-discharge" class="g"><circle cx="478" cy="266" r="2"/><text x="477" y="266" class="s45">discharge</text></g>
<g id="n-attention" class="g"><circle cx="328" cy="192" r="2"/><text x="334" y="192" class="s45">attention</text></g>
<g id="n-data" class="g"><circle cx="315" cy="197" r="2"/><text x="309" y="197" class="s45">data</text></g>
<g id="n-transport" class="g"><circle cx="358" cy="194" r="1.5"/><text x="358" y="194" class="s45">transport</text></g>
<g id="n-level" class="g"><circle cx="375" cy="195" r="7"/><text x="375" y="195" class="s7">level</text></g>
<g id="n-energy" class="g"><circle cx="338" cy="208" r="6"/><text x="338" y="208" class="s6">energy</text></g>
<g id="n-damage" class="g"><circle cx="366" cy="203" r="2.5"/><text x="373" y="204" class="s45">damage</text></g>
<g id="n-rate" class="g"><circle cx="346" cy="220" r="7"/><text x="345" y="220" class="s7">rate</text></g>
<g id="n-disaster" class="g"><circle cx="307" cy="214" r="2"/><text x="308" y="215" class="s45">disaster</text></g>
<g id="n-shelf" class="g"><circle cx="293" cy="218" r="1.2"/><text x="291" y="219" class="s4">shelf</text></g>
<g id="n-punishment" class="g"><circle cx="366" cy="220" r="2"/><text x="362" y="220" class="s4 f">punishment</text></g>
<g id="n-factor" class="g"><circle cx="382" cy="220" r="7"/><text x="384" y="222" class="s7">factor</text></g>
<g id="n-death" class="g"><circle cx="383" cy="231" r="2"/><text x="383" y="231" class="s45">death</text></g>
<g id="n-animal" class="g"><circle cx="360" cy="233" r="2"/><text x="360" y="233" class="s45">animal</text></g>
<g id="n-g3" class="g"><circle cx="325" cy="236" r="2.5"/><circle cx="352" cy="245" r="2"/><circle cx="392" cy="238" r="2"/></g>
<g id="n-diameter" class="g"><circle cx="310" cy="247" r="2"/><text x="309" y="247" class="s45">diameter</text></g>
<g id="n-temperature-2" class="g"><circle cx="338" cy="248" r="3"/><text x="337" y="249" class="s45">temperature</text></g>
<g id="n-rotation" class="g"><circle cx="300" cy="255" r="2"/><text x="300" y="255" class="s45">rotation</text></g>
<g id="n-cycle" class="g"><circle cx="328" cy="255" r="3"/><text x="328" y="256" class="s45">cycle</text></g>
<g id="n-reduction" class="g"><circle cx="378" cy="244" r="5"/><text x="377" y="245" class="s6">reduction</text></g>
</svg>
